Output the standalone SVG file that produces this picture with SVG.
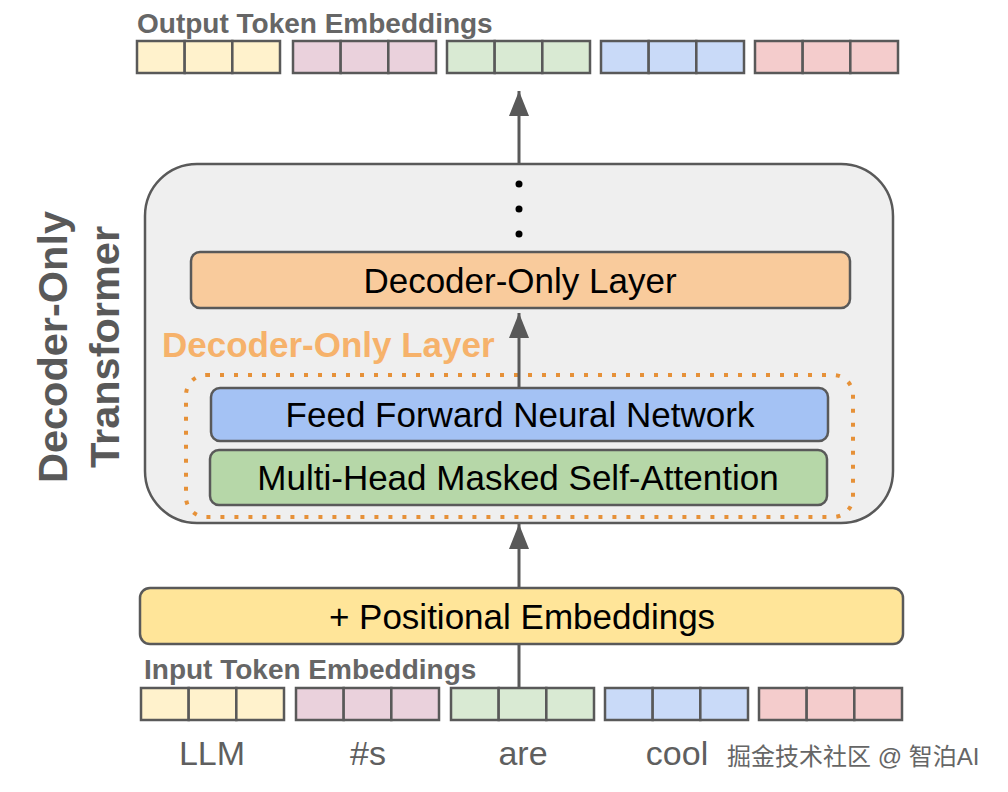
<svg xmlns="http://www.w3.org/2000/svg" width="1008" height="792" viewBox="0 0 1008 792">
<defs>
<style>
.cell{stroke:#595959;stroke-width:2.5}
.y{fill:#fff2cc}.p{fill:#ead1dc}.g{fill:#d9ead3}.b{fill:#c9daf8}.r{fill:#f4cccc}
.box{stroke:#595959;stroke-width:2.5}
.t{font-family:"Liberation Sans",Arial,sans-serif;fill:#000;text-anchor:middle;font-size:35px}
.hd{font-family:"Liberation Sans",Arial,sans-serif;font-weight:bold;fill:#666666}
.lbl{font-family:"Liberation Sans",Arial,sans-serif;fill:#5f5f5f;text-anchor:middle;font-size:34px}
.conn{stroke:#595959;stroke-width:3;fill:none}
</style>
<marker id="ah" viewBox="0 0 25 20" refX="25" refY="10" markerWidth="25" markerHeight="20" markerUnits="userSpaceOnUse" orient="auto">
<path d="M0,0 L25,10 L0,20 Z" fill="#595959"/>
</marker>
<g id="tok">
<rect class="cell" x="0" y="0" width="47.67" height="32"/>
<rect class="cell" x="47.67" y="0" width="47.67" height="32"/>
<rect class="cell" x="95.33" y="0" width="47.67" height="32"/>
</g>
</defs>
<rect width="1008" height="792" fill="#ffffff"/>

<g id="output-title"><text class="hd" x="137" y="33" font-size="28">Output Token Embeddings</text></g>
<g id="output-tokens">
<use href="#tok" class="y" x="137" y="41"/>
<use href="#tok" class="p" x="293" y="41"/>
<use href="#tok" class="g" x="447" y="41"/>
<use href="#tok" class="b" x="601" y="41"/>
<use href="#tok" class="r" x="755" y="41"/>
</g>

<g id="transformer">
<rect class="box" x="145" y="164" width="748" height="359" rx="52" ry="52" fill="#efefef"/>
</g>

<g id="side-label">
<text class="hd" font-size="41.5" text-anchor="middle" transform="translate(67,347) rotate(-90)" style="fill:#595959">Decoder-Only</text>
<text class="hd" font-size="41.5" text-anchor="middle" transform="translate(119,347) rotate(-90)" style="fill:#595959">Transformer</text>
</g>

<g id="dots">
<circle cx="519" cy="184" r="3.5" fill="#000"/>
<circle cx="519" cy="209" r="3.5" fill="#000"/>
<circle cx="519" cy="234" r="3.5" fill="#000"/>
</g>

<g id="layer-top">
<rect class="box" x="191" y="252" width="659" height="56" rx="9" fill="#f9cb9c"/>
<text class="t" x="520" y="293">Decoder-Only Layer</text>
</g>

<g id="layer-label"><text class="hd" x="162" y="357" font-size="35" style="fill:#f6b26b">Decoder-Only Layer</text></g>

<g id="layer-dotted">
<rect x="186" y="375" width="667" height="142" rx="20" fill="none" stroke="#e69138" stroke-width="4" stroke-dasharray="4 10"/>
</g>

<g id="ffnn">
<rect class="box" x="211" y="388" width="617" height="53" rx="9" fill="#a4c2f4"/>
<text class="t" x="520" y="427">Feed Forward Neural Network</text>
</g>

<g id="mhsa">
<rect class="box" x="210" y="450" width="617" height="55" rx="9" fill="#b6d7a8"/>
<text class="t" x="518" y="490">Multi-Head Masked Self-Attention</text>
</g>

<g id="positional">
<rect class="box" x="140" y="588" width="763" height="56" rx="10" fill="#ffe599"/>
<text class="t" x="522" y="629">+ Positional Embeddings</text>
</g>

<g id="input-title"><text class="hd" x="144" y="679" font-size="28">Input Token Embeddings</text></g>
<g id="input-tokens">
<use href="#tok" class="y" x="141" y="688"/>
<use href="#tok" class="p" x="296" y="688"/>
<use href="#tok" class="g" x="451" y="688"/>
<use href="#tok" class="b" x="605" y="688"/>
<use href="#tok" class="r" x="759" y="688"/>
</g>

<g id="token-labels">
<text class="lbl" x="212" y="765">LLM</text>
<text class="lbl" x="368" y="765">#s</text>
<text class="lbl" x="523" y="765">are</text>
<text class="lbl" x="677" y="765">cool</text>
</g>

<g id="watermark"><text x="727" y="765" font-size="24" font-family="'Liberation Sans','Noto Sans CJK SC',sans-serif" fill="#666666">掘金技术社区 @ 智泊AI</text></g>

<g id="connectors">
<line class="conn" x1="519" y1="688" x2="519" y2="644"/>
<line class="conn" x1="519" y1="588" x2="519" y2="524" marker-end="url(#ah)"/>
<line class="conn" x1="519" y1="388" x2="519" y2="313" marker-end="url(#ah)"/>
<line class="conn" x1="519" y1="164" x2="519" y2="91" marker-end="url(#ah)"/>
</g>
</svg>
